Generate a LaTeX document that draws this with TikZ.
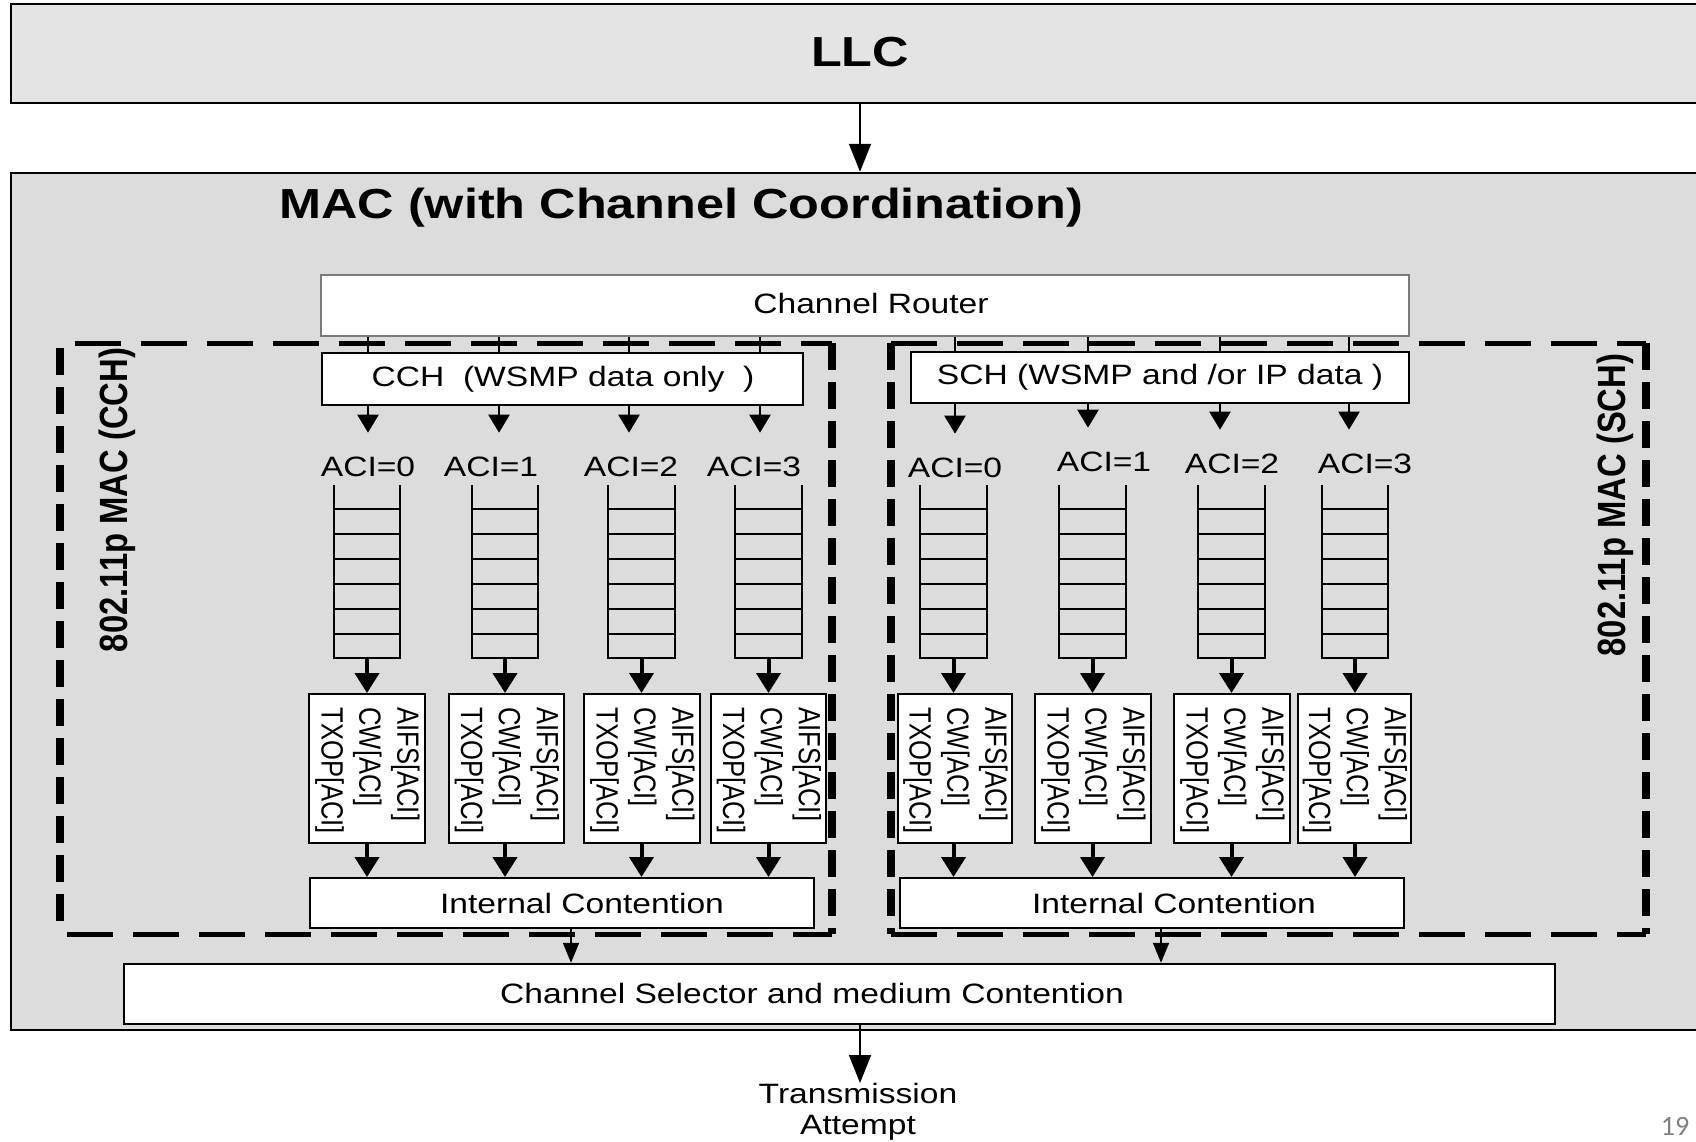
\documentclass[tikz,border=0pt]{standalone}
\usepackage{fontspec}
\setmainfont{Liberation Sans}[FakeStretch=1.2]
\newfontfamily\uprightfont{Liberation Sans}
\newfontfamily\numfont{Carlito}
\usetikzlibrary{arrows.meta,fit,calc}

\definecolor{llcgray}{HTML}{E4E4E4}
\definecolor{macgray}{HTML}{DCDCDC}
\definecolor{routergray}{HTML}{7A7A7A}
\definecolor{pagegray}{HTML}{808080}

\begin{document}
\begin{tikzpicture}[x=0.5pt,y=-0.5pt,
  txt/.style={font=\fontsize{14}{16.8}\selectfont, inner sep=0pt},
  bigtxt/.style={font=\bfseries\fontsize{21}{25}\selectfont, inner sep=0pt},
  layer/.style={draw=black, line width=1.25pt, inner sep=0pt},
  wbox/.style={draw=black, fill=white, line width=1pt, inner sep=0pt},
  qline/.style={line width=1pt},
  edcatext/.style={rotate=-90, anchor=west, inner sep=0pt,
    font=\uprightfont\fontsize{12.8}{15.8}\selectfont},
  sidetxt/.style={rotate=90, inner sep=0pt,
    font=\uprightfont\bfseries\fontsize{16.4}{19}\selectfont},
  heavyarrow/.style={line width=2pt, -{Triangle[width=12pt,length=10pt]}},
  feedarrow/.style={line width=1.2pt, -{Triangle[width=10.5pt,length=9pt]}},
  thinarrow/.style={line width=0.9pt, -{Triangle[width=11pt,length=14pt]}},
  slimarrow/.style={line width=0.9pt, -{Triangle[width=8pt,length=10pt]}},
  hdash/.style={line width=2.5pt, dash pattern=on 23pt off 10pt},
  vdash/.style={line width=4pt, dash pattern=on 13.5pt off 6pt}]

\useasboundingbox (0,0) rectangle (1696,1141);
\clip (0,0) rectangle (1696,1141);

% x positions shared by several connectors
\coordinate (midx) at (860,0);
\coordinate (joinL) at (571,0);
\coordinate (joinR) at (1161,0);

% outer layers
\node[layer, fill=llcgray, fit={(11,4)(1709,103)}] (llc) {};
\node[bigtxt] (llctxt) at (860,52) {LLC};
\node[layer, fill=macgray, fit={(11,173)(1720,1030)}] (mac) {};
\node[bigtxt, anchor=west] (mactitle) at (279,208)
  {MAC (with Channel Coordination)};
\draw[thinarrow] (llc.south -| midx) -- (mac.north -| midx);

% channel router
\node[draw=routergray, fill=white, line width=0.8pt, inner sep=0pt,
  fit={(321,275)(1409,336)}] (router) {};
\node[txt] (routertxt) at (871,303) {Channel Router};

% tap positions below the router
\foreach \n/\x in {1/368, 2/499, 3/629, 4/760}
  \coordinate (tapL\n) at (\x,0);
\foreach \n/\x in {1/955, 2/1088, 3/1220, 4/1349}
  \coordinate (tapR\n) at (\x,0);

% channel boxes
\node[wbox, fit={(322,353)(803,405)}] (cch) {};
\node[txt] (cchtxt) at (563,379) {CCH\ \ (WSMP data only\ \ )};
\node[wbox, fit={(911,352)(1409,403)}] (sch) {};
\node[txt] (schtxt) at (1160,377) {SCH (WSMP and /or IP data )};

\foreach \n in {1,...,4} {
  \draw[line width=1pt] (router.south -| tapL\n) -- (cch.north -| tapL\n);
  \draw[line width=1pt] (router.south -| tapR\n) -- (sch.north -| tapR\n);
}

% dashed 802.11p MAC frames
\draw[hdash] (75,343) -- (832,343);
\draw[vdash] (60,348) -- (60,925);
\draw[hdash] (67,934) -- (832,934);
\draw[vdash] (832,343) -- (832,934);
\draw[hdash] (891,343) -- (1646,343);
\draw[vdash] (891,343) -- (891,934);
\draw[hdash] (891,934) -- (1646,934);
\draw[vdash] (1646,343) -- (1646,934);

\node[sidetxt] (cchmac) at (117,500) {\scalebox{1}[1.2]{802.11p MAC (CCH)}};
\node[sidetxt] (schmac) at (1615,505) {\scalebox{1}[1.2]{802.11p MAC (SCH)}};

% access category labels
\foreach \n/\x/\y in {1/368/467, 2/491/467, 3/631/467, 4/754/467}
  \node[txt] (aciL\n) at (\x,\y) {ACI=\the\numexpr\n-1\relax};
\foreach \n/\x/\y in {1/955/468, 2/1104/462, 3/1232/464, 4/1365/464}
  \node[txt] (aciR\n) at (\x,\y) {ACI=\the\numexpr\n-1\relax};

\foreach \n in {1,...,4} {
  \draw[feedarrow, shorten >=12pt] (cch.south -| tapL\n) -- (aciL\n.north -| tapL\n);
  \draw[feedarrow, shorten >=12pt] (sch.south -| tapR\n) -- (aciR\n.north -| tapR\n);
}

% queues
\foreach \n/\xa/\xb in {1/334/400, 2/472/538, 3/608/675, 4/735/802}
  \node[inner sep=0pt, fit={(\xa,485)(\xb,658)}] (qL\n) {};
\foreach \n/\xa/\xb in {1/920/987, 2/1059/1126, 3/1198/1265, 4/1322/1388}
  \node[inner sep=0pt, fit={(\xa,485)(\xb,658)}] (qR\n) {};

\foreach \q in {qL1,qL2,qL3,qL4,qR1,qR2,qR3,qR4} {
  \draw[qline] (\q.north west) -- (\q.south west) -- (\q.south east) -- (\q.north east);
  \foreach \k in {1,...,6}
    \draw[qline] ($(\q.north west)!\k/7!(\q.south west)$) --
                 ($(\q.north east)!\k/7!(\q.south east)$);
}

% EDCA parameter boxes
\foreach \n/\xa/\xb in {1/309/425, 2/449/564, 3/584/700, 4/711/826}
  \node[wbox, fit={(\xa,694)(\xb,843)}] (eL\n) {};
\foreach \n/\xa/\xb in {1/898/1012, 2/1035/1151, 3/1174/1290, 4/1298/1411}
  \node[wbox, fit={(\xa,694)(\xb,843)}] (eR\n) {};

\foreach \e in {eL1,eL2,eL3,eL4,eR1,eR2,eR3,eR4}
  \node[edcatext] at ([yshift=-7pt]\e.north)
    {\scalebox{1}[1.2]{\begin{tabular}{@{}l@{}}AIFS[ACI]\\CW[ACI]\\TXOP[ACI]\end{tabular}}};

% internal contention
\node[wbox, fit={(310,878)(814,928)}] (icL) {};
\node[wbox, fit={(900,878)(1404,928)}] (icR) {};
\node[txt] (icLtxt) at (582,903) {Internal Contention};
\node[txt] (icRtxt) at (1174,903) {Internal Contention};

\foreach \n in {1,...,4} {
  \draw[heavyarrow] (qL\n.south) -- (eL\n.north -| qL\n.south);
  \draw[heavyarrow] (qR\n.south) -- (eR\n.north -| qR\n.south);
  \draw[heavyarrow] (eL\n.south -| qL\n.south) -- (icL.north -| qL\n.south);
  \draw[heavyarrow] (eR\n.south -| qR\n.south) -- (icR.north -| qR\n.south);
}

% channel selector
\node[wbox, line width=1.2pt, fit={(124,964)(1555,1024)}] (sel) {};
\node[txt] (seltxt) at (812,993) {Channel Selector and medium Contention};

\draw[slimarrow] (icL.south -| joinL) -- (sel.north -| joinL);
\draw[slimarrow] (icR.south -| joinR) -- (sel.north -| joinR);

% transmission attempt
\node[txt, align=center, anchor=north,
  font=\fontsize{14}{15.2}\selectfont] (tx) at (858,1083) {Transmission\\Attempt};
\draw[thinarrow] (sel.south -| midx) -- (tx.north -| midx);

% slide number
\node[font=\numfont\fontsize{14}{16}\selectfont, text=pagegray, inner sep=0pt]
  (pg) at (1675,1126) {19};

\end{tikzpicture}
\end{document}
